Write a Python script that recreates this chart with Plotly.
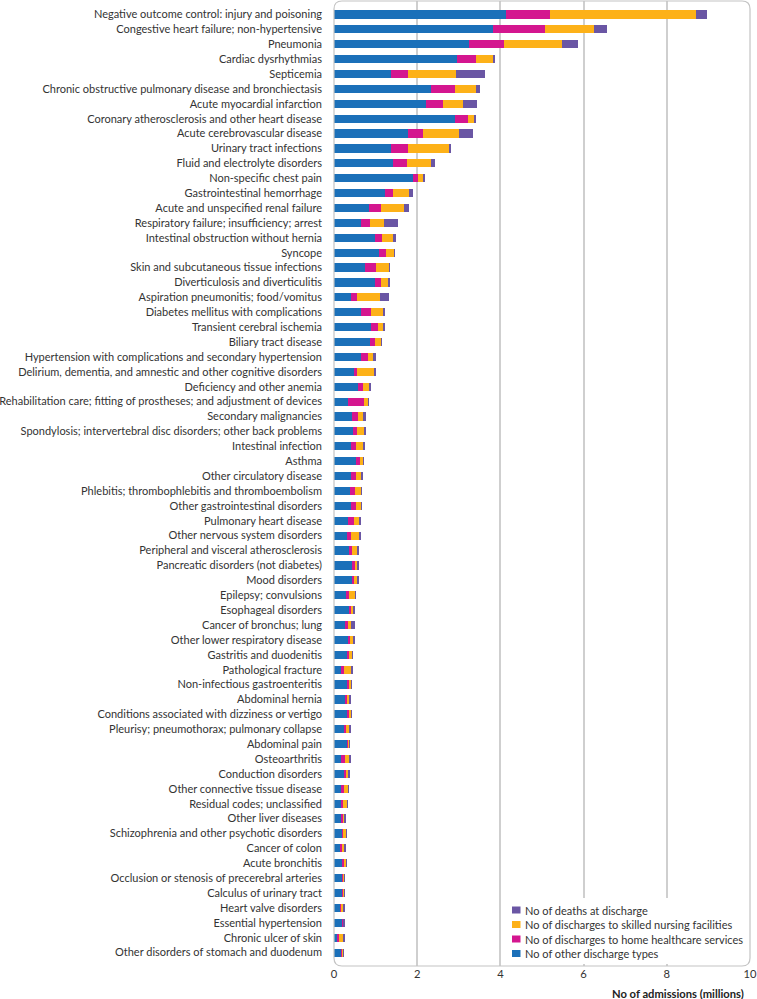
import plotly.graph_objects as go

categories = [
    "Negative outcome control: injury and poisoning",
    "Congestive heart failure; non-hypertensive",
    "Pneumonia",
    "Cardiac dysrhythmias",
    "Septicemia",
    "Chronic obstructive pulmonary disease and bronchiectasis",
    "Acute myocardial infarction",
    "Coronary atherosclerosis and other heart disease",
    "Acute cerebrovascular disease",
    "Urinary tract infections",
    "Fluid and electrolyte disorders",
    "Non-specific chest pain",
    "Gastrointestinal hemorrhage",
    "Acute and unspecified renal failure",
    "Respiratory failure; insufficiency; arrest",
    "Intestinal obstruction without hernia",
    "Syncope",
    "Skin and subcutaneous tissue infections",
    "Diverticulosis and diverticulitis",
    "Aspiration pneumonitis; food/vomitus",
    "Diabetes mellitus with complications",
    "Transient cerebral ischemia",
    "Biliary tract disease",
    "Hypertension with complications and secondary hypertension",
    "Delirium, dementia, and amnestic and other cognitive disorders",
    "Deficiency and other anemia",
    "Rehabilitation care; fitting of prostheses; and adjustment of devices",
    "Secondary malignancies",
    "Spondylosis; intervertebral disc disorders; other back problems",
    "Intestinal infection",
    "Asthma",
    "Other circulatory disease",
    "Phlebitis; thrombophlebitis and thromboembolism",
    "Other gastrointestinal disorders",
    "Pulmonary heart disease",
    "Other nervous system disorders",
    "Peripheral and visceral atherosclerosis",
    "Pancreatic disorders (not diabetes)",
    "Mood disorders",
    "Epilepsy; convulsions",
    "Esophageal disorders",
    "Cancer of bronchus; lung",
    "Other lower respiratory disease",
    "Gastritis and duodenitis",
    "Pathological fracture",
    "Non-infectious gastroenteritis",
    "Abdominal hernia",
    "Conditions associated with dizziness or vertigo",
    "Pleurisy; pneumothorax; pulmonary collapse",
    "Abdominal pain",
    "Osteoarthritis",
    "Conduction disorders",
    "Other connective tissue disease",
    "Residual codes; unclassified",
    "Other liver diseases",
    "Schizophrenia and other psychotic disorders",
    "Cancer of colon",
    "Acute bronchitis",
    "Occlusion or stenosis of precerebral arteries",
    "Calculus of urinary tract",
    "Heart valve disorders",
    "Essential hypertension",
    "Chronic ulcer of skin",
    "Other disorders of stomach and duodenum",
]

# millions of admissions
other_discharges = [4.13, 3.81, 3.25, 2.95, 1.37, 2.33, 2.20, 2.91, 1.77, 1.37, 1.41, 1.90, 1.22, 0.85, 0.65, 0.98,
                    1.07, 0.75, 0.99, 0.42, 0.66, 0.90, 0.86, 0.66, 0.47, 0.58, 0.34, 0.44, 0.45, 0.42, 0.52, 0.42,
                    0.38, 0.42, 0.34, 0.32, 0.37, 0.44, 0.45, 0.29, 0.38, 0.27, 0.33, 0.32, 0.18, 0.33, 0.27, 0.33,
                    0.24, 0.33, 0.18, 0.26, 0.18, 0.17, 0.16, 0.21, 0.14, 0.19, 0.21, 0.21, 0.14, 0.20, 0.08, 0.18]
home_healthcare = [1.07, 1.25, 0.84, 0.46, 0.41, 0.59, 0.41, 0.30, 0.36, 0.42, 0.34, 0.13, 0.20, 0.29, 0.21, 0.18,
                   0.18, 0.27, 0.14, 0.13, 0.24, 0.15, 0.12, 0.15, 0.08, 0.11, 0.37, 0.13, 0.10, 0.11, 0.11, 0.12,
                   0.13, 0.10, 0.13, 0.10, 0.06, 0.06, 0.04, 0.07, 0.04, 0.07, 0.06, 0.04, 0.05, 0.04, 0.05, 0.03,
                   0.06, 0.02, 0.08, 0.04, 0.06, 0.05, 0.05, 0.01, 0.05, 0.05, 0.02, 0.01, 0.05, 0.02, 0.05, 0.02]
skilled_nursing = [3.49, 1.20, 1.38, 0.41, 1.15, 0.50, 0.49, 0.17, 0.87, 0.97, 0.59, 0.13, 0.39, 0.54, 0.35, 0.26,
                   0.20, 0.31, 0.17, 0.55, 0.28, 0.15, 0.15, 0.15, 0.43, 0.16, 0.12, 0.13, 0.19, 0.17, 0.07, 0.12,
                   0.15, 0.13, 0.14, 0.20, 0.12, 0.06, 0.08, 0.15, 0.06, 0.08, 0.07, 0.09, 0.20, 0.05, 0.06, 0.05,
                   0.07, 0.03, 0.12, 0.06, 0.11, 0.11, 0.05, 0.08, 0.07, 0.05, 0.03, 0.03, 0.03, 0.02, 0.11, 0.02]
deaths = [0.28, 0.30, 0.39, 0.06, 0.69, 0.08, 0.34, 0.04, 0.34, 0.05, 0.09, 0.01, 0.08, 0.13, 0.34, 0.07,
          0.01, 0.01, 0.03, 0.22, 0.03, 0.01, 0.02, 0.04, 0.01, 0.03, 0.01, 0.08, 0.01, 0.04, 0.01, 0.03,
          0.01, 0.01, 0.04, 0.01, 0.06, 0.03, 0.01, 0.01, 0.02, 0.08, 0.03, 0.005, 0.01, 0.005, 0.03, 0.003,
          0.04, 0.002, 0.005, 0.02, 0.005, 0.005, 0.04, 0.003, 0.04, 0.005, 0.002, 0.002, 0.04, 0.002, 0.003, 0.002]

series_names = ["No of other discharge types", "No of discharges to home healthcare services",
                "No of discharges to skilled nursing facilities", "No of deaths at discharge"]
series_values = [other_discharges, home_healthcare, skilled_nursing, deaths]
series_colors = ["#1b70b9", "#d4168f", "#fdb118", "#6a56a4"]

x_ticks = [0, 2, 4, 6, 8, 10]

FONT = "Lato"
TXT = "#333333"
FS = 11

fig = go.Figure()
for name, vals, col in zip(series_names, series_values, series_colors):
    fig.add_trace(go.Bar(
        y=categories, x=vals, name=name, orientation="h", showlegend=False,
        marker=dict(color=col, line=dict(width=0)),
    ))

W, H = 757, 999
ml, mr, mt, mb = 334, 7, 1, 33
pw, ph = W - ml - mr, H - mt - mb


def px_x(p):
    return (p - ml) / pw


def px_y(p):
    return 1 - (p - mt) / ph


rx, ry = 8 / pw, 8 / ph
frame = (f"M {rx} 0 L {1-rx} 0 Q 1 0 1 {ry} L 1 {1-ry} Q 1 1 {1-rx} 1 "
         f"L {rx} 1 Q 0 1 0 {1-ry} L 0 {ry} Q 0 0 {rx} 0 Z")

shapes = [dict(type="rect", xref="paper", yref="paper", x0=px_x(506), x1=px_x(748),
               y0=px_y(964), y1=px_y(898), fillcolor="white", line=dict(width=0), layer="above")]
annotations = []
legend_rows = [910, 924.5, 939, 953.5]
for i, (name, col) in enumerate(zip(reversed(series_names), reversed(series_colors))):
    yc = legend_rows[i]
    shapes.append(dict(type="rect", xref="paper", yref="paper", x0=px_x(512), x1=px_x(520.5),
                       y0=px_y(yc + 3.5), y1=px_y(yc - 3.5), fillcolor=col, line=dict(width=0),
                       layer="above"))
    annotations.append(dict(text=name, xref="paper", yref="paper", x=px_x(523), y=px_y(yc),
                            xanchor="left", yanchor="middle", showarrow=False,
                            font=dict(size=11, color=TXT)))

shapes.append(dict(type="path", xref="paper", yref="paper", path=frame,
                   line=dict(color="#c4c4c4", width=1.2), layer="above"))

annotations.append(dict(text="<b>No of admissions (millions)</b>", xref="paper", yref="paper",
                        x=1, y=0, xanchor="right", yanchor="middle", yshift=-27, xshift=-4,
                        showarrow=False, font=dict(size=11.2, color="#222222")))

fig.update_layout(
    width=W, height=H,
    margin=dict(l=ml, r=mr, t=mt, b=mb, autoexpand=False),
    barmode="stack", bargap=0.45,
    plot_bgcolor="white", paper_bgcolor="white",
    font=dict(family=FONT, size=FS, color=TXT),
    showlegend=False,
    xaxis=dict(range=[0, 10], tickvals=x_ticks, ticktext=[str(t) for t in x_ticks],
               showgrid=True, gridcolor="#cfcfcf", gridwidth=1.5, zeroline=False,
               showline=False, ticks="", tickfont=dict(size=11.2, color=TXT)),
    yaxis=dict(categoryorder="array", categoryarray=categories,
               range=[63.9, -0.9], showgrid=False, zeroline=False, ticks="",
               ticklabelstandoff=11, tickfont=dict(size=FS, color=TXT)),
    shapes=shapes,
    annotations=annotations,
)

fig.write_html("out.html", config={"displayModeBar": False},
               post_script="document.body.style.margin='0';document.body.style.overflow='hidden';")
